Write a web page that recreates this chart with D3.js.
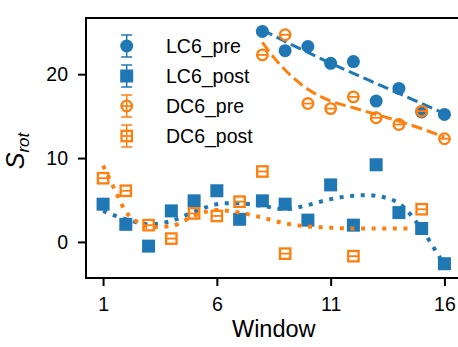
<!DOCTYPE html>
<html><head><meta charset="utf-8">
<script src="https://cdn.jsdelivr.net/npm/d3@7"></script>
<style>body{margin:0;background:#fff}svg{display:block}text{font-family:"Liberation Sans",Arial,sans-serif}</style>
</head><body><svg id="c" width="458" height="347"></svg>
<script>
// ---- data ----
const windows = [1,2,3,4,5,6,7,8,9,10,11,12,13,14,15,16];
const preWindows = [8,9,10,11,12,13,14,15,16];
const lc6Pre = [25.1,22.8,23.3,21.3,21.5,16.8,18.3,15.5,15.2];
const dc6Pre = [22.3,24.7,16.5,15.9,17.3,14.8,14.0,15.6,12.3];
const lc6Post = [4.5,2.1,-0.5,3.7,4.9,6.1,2.7,4.9,4.5,2.6,6.8,2.0,9.2,3.5,1.6,-2.6];
const dc6Post = [7.6,6.1,2.0,0.4,3.4,3.1,4.8,8.4,-1.4,null,null,-1.7,null,null,3.9,null];
// fitted trend lines
const lc6PreFit = [25.3,23.9,22.6,21.3,20.1,18.9,17.7,16.5,15.3];
const dc6PreFitX = [8,8.5,9,10,11,12,13,14,15,16];
const dc6PreFit = [23.8,22.0,20.5,18.2,16.8,16.0,15.2,14.4,13.5,12.5];
const lc6PostFit = [3.7,2.7,2.1,2.5,3.6,4.5,4.6,4.3,3.9,4.4,5.1,5.5,5.5,4.6,1.5,-2.8];
const dc6PostFitX = [1,1.5,2,2.5,3,4,5,6,7,8,9,10,11,12,13,14,14.4];
const dc6PostFit = [9.1,6.3,3.6,2.4,1.75,1.9,3.1,3.8,3.5,2.9,2.2,1.85,1.7,1.6,1.6,1.6,1.6];
const xTicks = [1,6,11,16];
const yTicks = [0,10,20];
const seriesNames = ["LC6_pre","LC6_post","DC6_pre","DC6_post"];

const blue = "#1f77b4", orange = "#ff7f0e";
const svg = d3.select("#c");
const L = 86, R = 461.5, T = 18, B = 278;
const x = d3.scaleLinear().domain([0.25,16.75]).range([L,R]);
const y = d3.scaleLinear().domain([-4.3,26.7]).range([B,T]);

// axes
const xa = svg.append("g").attr("transform",`translate(0,${B})`)
  .call(d3.axisBottom(x).tickValues(xTicks).tickSize(8).tickPadding(11).tickFormat(d3.format("d")));
const ya = svg.append("g").attr("transform",`translate(${L},0)`)
  .call(d3.axisLeft(y).tickValues(yTicks).tickSize(8).tickPadding(10));
[xa,ya].forEach(g=>{
  g.select(".domain").remove();
  g.selectAll("line").attr("stroke","#000").attr("stroke-width",2);
  g.selectAll("text").attr("font-size",19.5).attr("fill","#000").attr("font-family","Liberation Sans, Arial, sans-serif");
});
// frame
svg.append("rect").attr("x",L).attr("y",T).attr("width",R-L).attr("height",B-T)
  .attr("fill","none").attr("stroke","#000").attr("stroke-width",2);

// labels
svg.append("text").attr("x",(L+R)/2).attr("y",337).attr("text-anchor","middle")
  .attr("font-size",23.5).text("Window");
const yl = svg.append("text").attr("transform","translate(24,151) rotate(-90)").attr("text-anchor","middle");
yl.append("tspan").attr("font-size",25).attr("font-style","italic").text("S");
yl.append("tspan").attr("font-size",17).attr("font-style","italic").attr("dy",5).text("rot");

const plot = svg.append("g");
const lineGen = (xs, ys, curve) => d3.line().curve(curve)
  .x((d,i)=>x(xs[i])).y(d=>y(d));

function circles(g, xs, vals, color, filled){
  xs.forEach((w,i)=>{
    const v = vals[i]; if(v==null) return;
    const cx=x(w), cy=y(v);
    if(filled){
      g.append("circle").attr("cx",cx).attr("cy",cy).attr("r",6.5).attr("fill",color);
    } else {
      g.append("circle").attr("cx",cx).attr("cy",cy).attr("r",5.3).attr("fill","none").attr("stroke",color).attr("stroke-width",2.3);
      g.append("line").attr("x1",cx-5).attr("x2",cx+5).attr("y1",cy).attr("y2",cy).attr("stroke",color).attr("stroke-width",1.8);
    }
  });
}
function squares(g, xs, vals, color, filled){
  xs.forEach((w,i)=>{
    const v = vals[i]; if(v==null) return;
    const cx=x(w), cy=y(v);
    if(filled){
      g.append("rect").attr("x",cx-6.5).attr("y",cy-6.5).attr("width",13).attr("height",13).attr("fill",color);
    } else {
      g.append("rect").attr("x",cx-5.2).attr("y",cy-5.2).attr("width",10.4).attr("height",10.4).attr("fill","none").attr("stroke",color).attr("stroke-width",2.3);
      g.append("line").attr("x1",cx-5).attr("x2",cx+5).attr("y1",cy).attr("y2",cy).attr("stroke",color).attr("stroke-width",1.8);
    }
  });
}

// LC6_pre
circles(plot, preWindows, lc6Pre, blue, true);
plot.append("path").attr("d",lineGen(preWindows,lc6PreFit,d3.curveMonotoneX)(lc6PreFit))
  .attr("fill","none").attr("stroke",blue).attr("stroke-width",3).attr("stroke-dasharray","11,5");
// LC6_post
squares(plot, windows, lc6Post, blue, true);
plot.append("path").attr("d",lineGen(windows,lc6PostFit,d3.curveCatmullRom)(lc6PostFit))
  .attr("fill","none").attr("stroke",blue).attr("stroke-width",4).attr("stroke-dasharray","4,6.6");
// DC6_pre
circles(plot, preWindows, dc6Pre, orange, false);
plot.append("path").attr("d",lineGen(dc6PreFitX,dc6PreFit,d3.curveMonotoneX)(dc6PreFit))
  .attr("fill","none").attr("stroke",orange).attr("stroke-width",3).attr("stroke-dasharray","11,5");
// DC6_post
squares(plot, windows, dc6Post, orange, false);
plot.append("path").attr("d",lineGen(dc6PostFitX,dc6PostFit,d3.curveMonotoneX)(dc6PostFit))
  .attr("fill","none").attr("stroke",orange).attr("stroke-width",4).attr("stroke-dasharray","4,6.6");

// legend
const lg = svg.append("g");
seriesNames.forEach((name,i)=>{
  const cy = 46 + i*30, cx = 126.7;
  const col = i<2 ? blue : orange;
  lg.append("line").attr("x1",cx).attr("x2",cx).attr("y1",cy-11).attr("y2",cy+11).attr("stroke",col).attr("stroke-width",1.5);
  lg.append("line").attr("x1",cx-5.5).attr("x2",cx+5.5).attr("y1",cy-11).attr("y2",cy-11).attr("stroke",col).attr("stroke-width",1.5);
  lg.append("line").attr("x1",cx-5.5).attr("x2",cx+5.5).attr("y1",cy+11).attr("y2",cy+11).attr("stroke",col).attr("stroke-width",1.5);
  const g = lg.append("g");
  if(i===0) circles(g,[0],[0],col,true);
  if(i===1) squares(g,[0],[0],col,true);
  if(i===2) circles(g,[0],[0],col,false);
  if(i===3) squares(g,[0],[0],col,false);
  g.attr("transform",`translate(${cx-x(0)},${cy-y(0)})`);
  lg.append("text").attr("x",166).attr("y",cy).attr("dy","0.36em").attr("font-size",19.5).text(name);
});
</script></body></html>
